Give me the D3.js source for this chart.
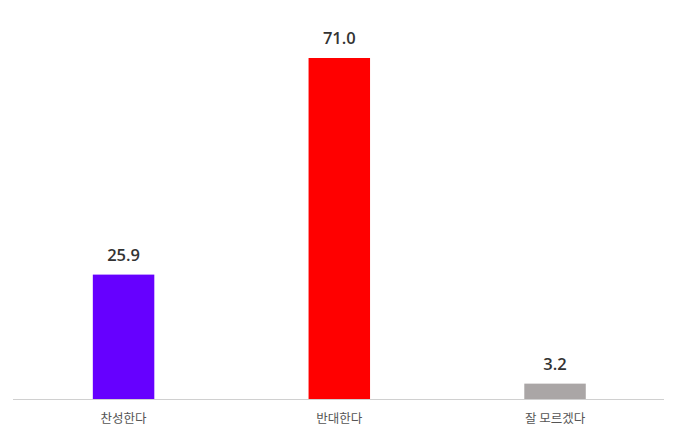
<!DOCTYPE html>
<html>
<head>
<meta charset="utf-8">
<script src="https://cdn.jsdelivr.net/npm/d3@7"></script>
<style>
  body { margin: 0; background: #fff; }
</style>
</head>
<body>
<script>
var width = 680,
    height = 440;

// data
var categories = ['찬성한다', '반대한다', '잘 모르겠다'];
var values = [25.9, 71.0, 3.2];
var colors = ['#6600ff', '#ff0000', '#aaa6a6'];

var baseY = 399;

var svg = d3.select('body')
    .append('svg')
    .attr('width', width)
    .attr('height', height)
    .style('background', '#ffffff');

var x = d3.scaleBand()
    .domain(categories)
    .range([15.7, 662.9]);

var y = d3.scaleLinear()
    .domain([0, 71])
    .range([baseY, 58]);

var barW = x.bandwidth() * 0.285;

svg.selectAll('rect.bar')
    .data(values)
    .enter()
    .append('rect')
    .classed('bar', true)
    .attr('x', function(d, i) { return x(categories[i]) + x.bandwidth() / 2 - barW / 2; })
    .attr('y', function(d) { return y(d); })
    .attr('width', barW)
    .attr('height', function(d) { return y(0) - y(d); })
    .style('fill', function(d, i) { return colors[i]; });

svg.selectAll('text.val')
    .data(values)
    .enter()
    .append('text')
    .classed('val', true)
    .attr('x', function(d, i) { return x(categories[i]) + x.bandwidth() / 2; })
    .attr('y', function(d) { return y(d) - 14; })
    .attr('text-anchor', 'middle')
    .style('font-family', '"Open Sans", "Noto Sans", sans-serif')
    .style('font-size', '16.5px')
    .style('font-weight', '600')
    .style('fill', '#333')
    .text(function(d) { return d.toFixed(1); });

// baseline, a bit wider than the bands
svg.append('line')
    .attr('x1', 13)
    .attr('x2', 664)
    .attr('y1', baseY + 0.5)
    .attr('y2', baseY + 0.5)
    .attr('stroke', '#d0d0d0');

var axis = svg.append('g')
    .attr('transform', 'translate(0,' + y(0) + ')')
    .call(d3.axisBottom(x).tickSize(0).tickPadding(15));

axis.select('.domain').remove();
axis.selectAll('text')
    .style('font-family', '"Noto Sans CJK KR", sans-serif')
    .style('font-size', '12.5px')
    .style('fill', '#555');
</script>
</body>
</html>
